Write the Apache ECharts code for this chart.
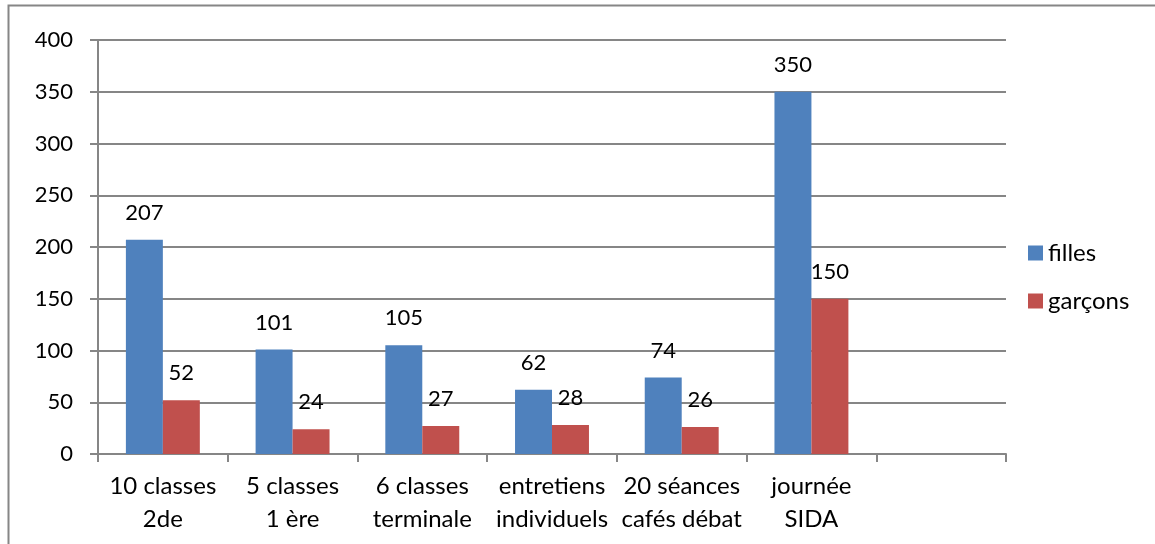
<!DOCTYPE html>
<html><head><meta charset="utf-8">
<script src="https://cdn.jsdelivr.net/npm/echarts@6/dist/echarts.min.js"></script>
<style>html,body{margin:0;padding:0;background:#fff}#c{width:1155px;height:544px}</style>
</head><body><div id="c"></div>
<script>
const categories = ["10 classes\n2de","5 classes\n1 ère","6 classes\nterminale","entretiens\nindividuels","20 séances\ncafés débat","journée\nSIDA",""];
const filles = [207,101,105,62,74,350,null];
const garcons = [52,24,27,28,26,150,null];
const yTicks = {min:0,max:400,interval:50};
const FONT = "Lato";
const chart = echarts.init(document.getElementById('c'));
const grey = '#868686';
const lbl = {show:true,position:'top',distance:16,color:'#000',fontFamily:FONT,fontSize:22};
chart.setOption({
  animation:false,
  graphic:[{type:'rect',shape:{x:8.5,y:5.5,width:1200,height:600},style:{fill:'none',stroke:grey,lineWidth:2}}],
  grid:{left:98,right:149,top:40,bottom:90},
  legend:{orient:'vertical',left:1023,top:236,padding:5,itemWidth:15,itemHeight:15,itemGap:24,icon:'rect',
    textStyle:{fontFamily:FONT,fontSize:24,lineHeight:24,color:'#000'},data:['filles','garçons']},
  xAxis:{type:'category',data:categories,
    axisLine:{lineStyle:{color:grey,width:2}},
    axisTick:{show:true,length:8,lineStyle:{color:grey,width:2}},
    axisLabel:{color:'#000',fontFamily:FONT,fontSize:24,lineHeight:33,margin:16,interval:0}},
  yAxis:{type:'value',min:yTicks.min,max:yTicks.max,interval:yTicks.interval,
    axisLine:{show:true,lineStyle:{color:grey,width:2}},
    axisTick:{show:true,length:8,lineStyle:{color:grey,width:2}},
    splitLine:{lineStyle:{color:grey,width:2}},
    axisLabel:{color:'#000',fontFamily:FONT,fontSize:22,margin:25}},
  series:[
    {name:'filles',type:'bar',data:filles,itemStyle:{color:'#4F81BD'},barGap:'0%',barCategoryGap:'43%',label:lbl},
    {name:'garçons',type:'bar',data:garcons,itemStyle:{color:'#C0504D'},label:lbl}
  ]
});
</script></body></html>
